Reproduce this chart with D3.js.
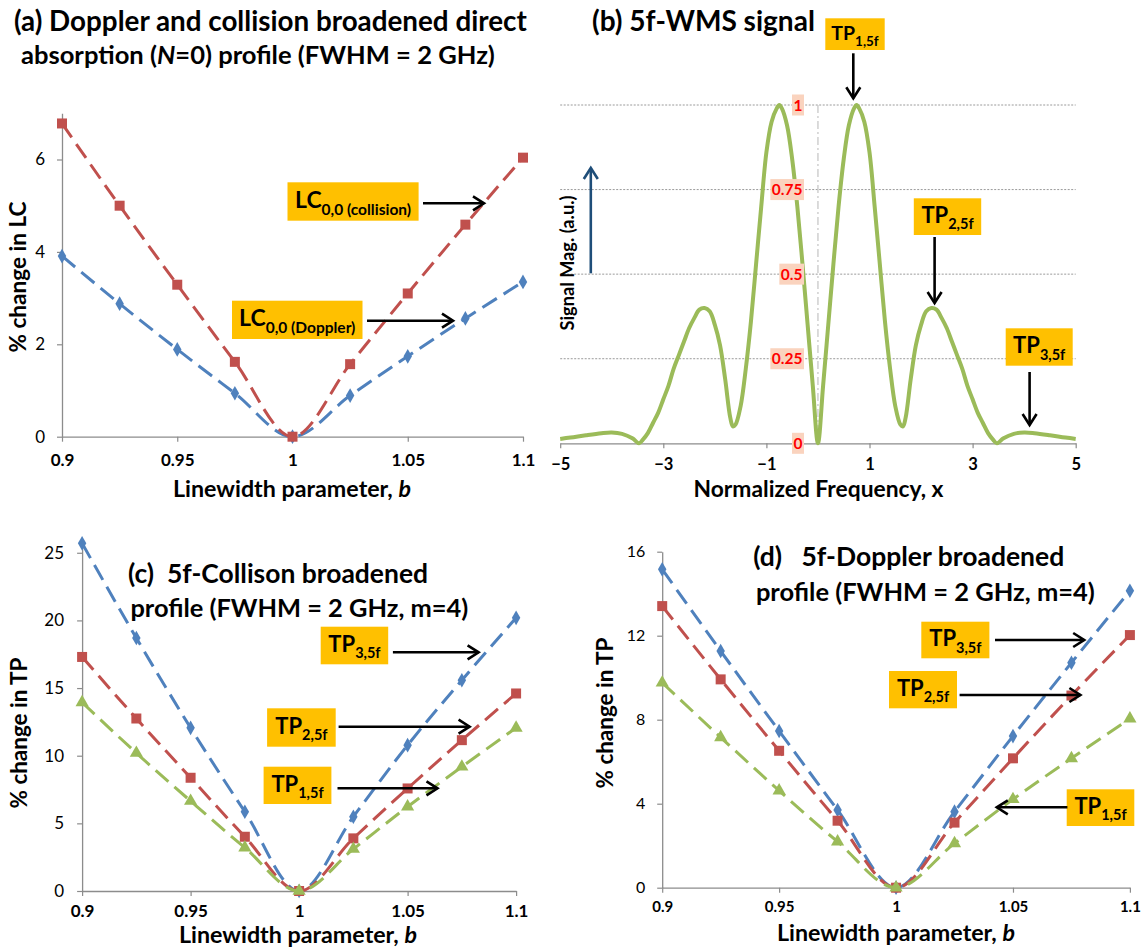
<!DOCTYPE html>
<html><head><meta charset="utf-8">
<script src="https://cdn.jsdelivr.net/npm/d3@7"></script>
<style>body{margin:0;background:#fff} svg{display:block} text{white-space:pre}</style>
</head><body><svg id="c" width="1143" height="947"></svg>
<script>
// ---------- data ----------
const bVals = [0.9, 0.925, 0.95, 0.975, 1, 1.025, 1.05, 1.075, 1.1];
const bTicks = [0.9, 0.95, 1, 1.05, 1.1];

const lcDoppler   = [3.91, 2.88, 1.89, 0.94, 0, 0.89, 1.74, 2.56, 3.35];
const lcCollision = [6.78, 5.00, 3.29, 1.62, 0, 1.57, 3.10, 4.59, 6.04];
const lcTicks = [0, 2, 4, 6];

const tpColl3 = [25.7, 18.7, 12.06, 5.86, 0, 5.49, 10.78, 15.58, 20.19];
const tpColl2 = [17.3, 12.75, 8.37, 4.01, 0, 3.89, 7.58, 11.15, 14.6];
const tpColl1 = [13.94, 10.2, 6.65, 3.2, 0, 3.1, 6.23, 9.18, 12.06];
const tpCollTicks = [0, 5, 10, 15, 20, 25];

const tpDopp3 = [15.16, 11.27, 7.46, 3.70, 0, 3.62, 7.22, 10.71, 14.14];
const tpDopp2 = [13.41, 9.92, 6.52, 3.19, 0, 3.10, 6.16, 9.15, 12.03];
const tpDopp1 = [9.76, 7.16, 4.62, 2.19, 0, 2.11, 4.21, 6.16, 8.05];
const tpDoppTicks = [0, 4, 8, 12, 16];

const wmsX = [-5, -4.8, -4.5, -4.2, -4, -3.8, -3.6, -3.47, -3.4, -3.3, -3.2, -3.1, -3, -2.9, -2.8, -2.7, -2.6, -2.5, -2.4, -2.3, -2.2, -2.1, -2, -1.9, -1.8, -1.7, -1.65, -1.6, -1.5, -1.4, -1.3, -1.2, -1.1, -1, -0.9, -0.8, -0.75, -0.7, -0.6, -0.5, -0.4, -0.3, -0.2, -0.1, 0,
              0.1, 0.2, 0.3, 0.4, 0.5, 0.6, 0.7, 0.75, 0.8, 0.9, 1, 1.1, 1.2, 1.3, 1.4, 1.5, 1.6, 1.65, 1.7, 1.8, 1.9, 2, 2.1, 2.2, 2.3, 2.4, 2.5, 2.6, 2.7, 2.8, 2.9, 3, 3.1, 3.2, 3.3, 3.4, 3.47, 3.6, 3.8, 4, 4.2, 4.5, 4.8, 5];
const wmsY = [0.013, 0.017, 0.024, 0.030, 0.032, 0.028, 0.015, 0, 0.010, 0.030, 0.060, 0.090, 0.130, 0.170, 0.220, 0.260, 0.300, 0.340, 0.370, 0.395, 0.400, 0.390, 0.350, 0.290, 0.190, 0.075, 0.050, 0.055, 0.110, 0.220, 0.360, 0.530, 0.700, 0.860, 0.950, 0.990, 1.000, 0.990, 0.940, 0.840, 0.700, 0.530, 0.350, 0.170, 0,
              0.170, 0.350, 0.530, 0.700, 0.840, 0.940, 0.990, 1.000, 0.990, 0.950, 0.860, 0.700, 0.530, 0.360, 0.220, 0.110, 0.055, 0.050, 0.075, 0.190, 0.290, 0.350, 0.390, 0.400, 0.395, 0.370, 0.340, 0.300, 0.260, 0.220, 0.170, 0.130, 0.090, 0.060, 0.030, 0.010, 0, 0.015, 0.028, 0.032, 0.030, 0.024, 0.017, 0.013];
const wmsXTicks = [-5, -3, -1, 1, 3, 5];
const wmsYTicks = [0, 0.25, 0.5, 0.75, 1];

// ---------- styles ----------
const FONT = "Lato, 'Open Sans', sans-serif";
const AXIS = '#8c8c8c';
const BLUE = '#4F81BD', RED = '#C0504D', GREEN = '#9BBB59', ORANGE = '#FFC000';

const svg = d3.select('#c');

// scale a text's font-size so that its rendered width equals a target width
function fit(t, target) {
  const fs = parseFloat(t.attr('font-size'));
  const w = t.node().getComputedTextLength();
  if (w > 0) t.attr('font-size', (fs * target / w).toFixed(2));
  return t;
}

function styleAxis(g, bold, size) {
  g.attr('font-family', FONT).attr('font-size', size);
  g.select('.domain').attr('stroke', AXIS).attr('stroke-width', 1.3);
  g.selectAll('.tick line').attr('stroke', AXIS).attr('stroke-width', 1.2);
  g.selectAll('.tick text').attr('fill', '#000').attr('font-weight', bold ? 'bold' : 'normal');
}

function arrow(x1, y1, x2, y2, color, w) {
  color = color || '#000'; w = w || 2.6;
  const g = svg.append('g');
  g.append('line').attr('x1', x1).attr('y1', y1).attr('x2', x2).attr('y2', y2)
    .attr('stroke', color).attr('stroke-width', w);
  const a = Math.atan2(y2 - y1, x2 - x1), L = 11, H = 7;
  const p1 = [x2 - L * Math.cos(a) - H * Math.sin(a), y2 - L * Math.sin(a) + H * Math.cos(a)];
  const p2 = [x2 - L * Math.cos(a) + H * Math.sin(a), y2 - L * Math.sin(a) - H * Math.cos(a)];
  g.append('path').attr('d', `M${p1}L${x2},${y2}L${p2}`).attr('fill', 'none')
    .attr('stroke', color).attr('stroke-width', w).attr('stroke-linejoin', 'miter');
}

function labelBox(x0, y0, x1, y1, main, sub, ms, ss) {
  svg.append('rect').attr('x', x0).attr('y', y0).attr('width', x1 - x0).attr('height', y1 - y0).attr('fill', ORANGE);
  const t = svg.append('text').attr('x', (x0 + x1) / 2).attr('y', (y0 + y1) / 2 + ms * 0.28)
    .attr('text-anchor', 'middle').attr('font-family', FONT).attr('font-weight', 'bold').attr('fill', '#000');
  t.append('tspan').attr('font-size', ms).text(main);
  t.append('tspan').attr('font-size', ss).attr('dy', ss * 0.45).text(sub);
}

function title(x, y, parts, width) {
  const t = svg.append('text').attr('x', x).attr('y', y).attr('font-family', FONT)
    .attr('font-weight', 'bold').attr('font-size', 24).attr('fill', '#000');
  parts.forEach(p => {
    const s = t.append('tspan').text(p.t);
    if (p.i) s.attr('font-style', 'italic');
  });
  return fit(t, width);
}

function vPanel(p) {
  const x = d3.scaleLinear().domain([0.9, 1.1]).range([p.x0, p.x1]);
  const y = d3.scaleLinear().domain([0, p.ymax]).range([p.y0, p.y1]);
  const g = svg.append('g');
  g.append('g').attr('transform', `translate(${p.x0},0)`)
    .call(d3.axisLeft(y).tickValues(p.yTicks).tickSize(5).tickSizeOuter(0).tickPadding(p.yPad).tickFormat(d3.format('~g')))
    .call(a => styleAxis(a, false, p.yFont));
  g.append('g').attr('transform', `translate(0,${p.y0})`)
    .call(d3.axisBottom(x).tickValues(bTicks).tickSize(5).tickSizeOuter(0).tickPadding(p.xPad).tickFormat(d3.format('~g')))
    .call(a => styleAxis(a, true, p.xFont));
  p.series.forEach(s => {
    const pts = bVals.map((b, i) => [x(b), y(s.vals[i])]);
    g.append('path').attr('d', d3.line().curve(d3.curveMonotoneX)(pts)).attr('fill', 'none')
      .attr('stroke', s.color).attr('stroke-width', 3).attr('stroke-dasharray', '17,8');
    g.append('g').selectAll('path').data(pts).join('path')
      .attr('transform', d => `translate(${d[0]},${d[1]})`)
      .attr('d', d3.symbol().type(s.sym).size(s.size)).attr('fill', s.color);
  });
  // axis titles
  const xt = svg.append('text').attr('x', p.xtX).attr('y', p.xtY).attr('text-anchor', 'middle')
    .attr('font-family', FONT).attr('font-weight', 'bold').attr('font-size', 21);
  xt.append('tspan').text('Linewidth parameter, ');
  xt.append('tspan').attr('font-style', 'italic').text('b');
  fit(xt, 238);
  const yt = svg.append('text').attr('transform', `translate(${p.ytX},${p.ytY}) rotate(-90)`).attr('text-anchor', 'middle')
    .attr('font-family', FONT).attr('font-weight', 'bold').attr('font-size', 21).text(p.yTitle);
  fit(yt, 151);
}

const DIAM = 62, SQR = 100, TRI = 75;

// ---------- panel (a) ----------
title(14, 31, [{t: '(a) Doppler and collision broadened direct'}], 513);
title(21, 64, [{t: 'absorption ('}, {t: 'N', i: true}, {t: '=0) profile (FWHM = 2 GHz)'}], 474);
vPanel({x0: 62, x1: 523, y0: 436.7, y1: 113.3, ymax: 7, yTicks: lcTicks, yPad: 12, xPad: 12, yFont: 17, xFont: 17,
  xtX: 292, xtY: 497, ytX: 26, ytY: 277, yTitle: '% change in LC',
  series: [
    {vals: lcDoppler, color: BLUE, sym: d3.symbolDiamond, size: DIAM},
    {vals: lcCollision, color: RED, sym: d3.symbolSquare, size: SQR}
  ]});
labelBox(287.5, 182.3, 418.6, 220.7, 'LC', '0,0 (collision)', 23, 15.5);
arrow(423, 203.3, 484, 203.3);
labelBox(232, 300.7, 362.5, 339, 'LC', '0,0 (Doppler)', 23, 15.5);
arrow(367, 320.7, 453, 320.7);

// ---------- panel (b) ----------
title(592, 31, [{t: '(b) 5f-WMS signal'}], 223);
(function () {
  const x = d3.scaleLinear().domain([-5, 5]).range([560.2, 1075.7]);
  const y = d3.scaleLinear().domain([0, 1]).range([443.3, 105]);
  const g = svg.append('g');
  g.selectAll('line.grid').data(wmsYTicks.filter(v => v > 0)).join('line').attr('class', 'grid')
    .attr('x1', x(-5)).attr('x2', x(5)).attr('y1', d => y(d)).attr('y2', d => y(d))
    .attr('stroke', '#9a9a9a').attr('stroke-width', 1).attr('stroke-dasharray', '2,1.5');
  g.append('line').attr('x1', x(0)).attr('x2', x(0)).attr('y1', y(1)).attr('y2', y(0))
    .attr('stroke', '#c4c4c4').attr('stroke-width', 1.2).attr('stroke-dasharray', '8,3,2,3');
  g.append('g').attr('transform', `translate(0,${y(0)})`)
    .call(d3.axisBottom(x).tickValues(wmsXTicks).tickSize(5).tickSizeOuter(0).tickPadding(10))
    .call(a => styleAxis(a, true, 16.5));
  const pts = wmsX.map((v, i) => [x(v), y(wmsY[i])]);
  g.append('path').attr('d', d3.line().curve(d3.curveCatmullRom.alpha(0.5))(pts)).attr('fill', 'none')
    .attr('stroke', GREEN).attr('stroke-width', 4);
  // y tick labels (red on peach)
  wmsYTicks.forEach(v => {
    const t = g.append('text').attr('x', 802.5).attr('y', y(v) + 5.5).attr('text-anchor', 'end')
      .attr('font-family', FONT).attr('font-weight', 'bold').attr('font-size', 15.5).attr('fill', '#FF0000')
      .text(d3.format('~g')(v));
    const bb = t.node().getBBox();
    g.insert('rect', () => t.node()).attr('x', bb.x - 1.5).attr('y', y(v) - 10.5).attr('width', bb.width + 3).attr('height', 21)
      .attr('fill', '#FAD3BE');
  });
  fit(svg.append('text').attr('transform', `translate(574,263) rotate(-90)`).attr('text-anchor', 'middle')
    .attr('font-family', FONT).attr('font-weight', 'bold').attr('font-size', 15).text('Signal Mag. (a.u.)'), 135);
  arrow(590.8, 273.3, 590.8, 168, '#1F4E79', 2.6);
  fit(svg.append('text').attr('x', 818.5).attr('y', 497).attr('text-anchor', 'middle')
    .attr('font-family', FONT).attr('font-weight', 'bold').attr('font-size', 21).text('Normalized Frequency, x'), 250);
})();
labelBox(825.3, 18.3, 884.7, 50, 'TP', '1,5f', 19.5, 13.5);
arrow(853.3, 53.3, 853.3, 98.3);
labelBox(913.8, 198.3, 981.2, 235, 'TP', '2,5f', 22, 14.5);
arrow(934.6, 237, 934.6, 303);
labelBox(1005.7, 328.3, 1072.7, 365.7, 'TP', '3,5f', 22, 14.5);
arrow(1029.6, 372, 1029.6, 425);

// ---------- panel (c) ----------
vPanel({x0: 82.1, x1: 516.1, y0: 891, y1: 543.3, ymax: 25.7, yTicks: tpCollTicks, yPad: 13, xPad: 9, yFont: 17, xFont: 17,
  xtX: 298, xtY: 942.5, ytX: 27, ytY: 733, yTitle: '% change in TP',
  series: [
    {vals: tpColl3, color: BLUE, sym: d3.symbolDiamond, size: DIAM},
    {vals: tpColl2, color: RED, sym: d3.symbolSquare, size: SQR},
    {vals: tpColl1, color: GREEN, sym: d3.symbolTriangle, size: TRI}
  ]});
const tc1 = title(128, 583, [{t: '(c)  5f-Collison broadened'}], 300);
title(130.4, 617, [{t: 'profile (FWHM = 2 GHz, m=4)'}], 338);
labelBox(320.7, 626.7, 388.2, 664.3, 'TP', '3,5f', 22, 14.5);
arrow(392.9, 652.3, 478.6, 652.3);
labelBox(267.1, 708.3, 335.7, 746.7, 'TP', '2,5f', 22, 14.5);
arrow(338.6, 726.7, 469.6, 726.7);
labelBox(263.6, 766.7, 331.4, 804, 'TP', '1,5f', 22, 14.5);
arrow(337.5, 788.3, 437.5, 788.3);

// ---------- panel (d) ----------
vPanel({x0: 662.2, x1: 1129.9, y0: 887.7, y1: 551.7, ymax: 16, yTicks: tpDoppTicks, yPad: 12, xPad: 9, yFont: 16, xFont: 15,
  xtX: 896, xtY: 941, ytX: 613, ytY: 713, yTitle: '% change in TP',
  series: [
    {vals: tpDopp3, color: BLUE, sym: d3.symbolDiamond, size: DIAM},
    {vals: tpDopp2, color: RED, sym: d3.symbolSquare, size: SQR},
    {vals: tpDopp1, color: GREEN, sym: d3.symbolTriangle, size: TRI}
  ]});
title(753.3, 566, [{t: '(d)   5f-Doppler broadened'}], 311);
title(755.9, 601, [{t: 'profile (FWHM = 2 GHz, m=4)'}], 339);
labelBox(921.3, 621.7, 989.4, 658.3, 'TP', '3,5f', 22, 14.5);
arrow(995, 640, 1084.2, 640);
labelBox(889, 671, 957, 708.3, 'TP', '2,5f', 22, 14.5);
arrow(959.6, 695, 1080.4, 695);
labelBox(1066.7, 789.3, 1134.3, 826, 'TP', '1,5f', 22, 14.5);
arrow(1067.4, 807.3, 996.8, 807.3);
</script></body></html>
